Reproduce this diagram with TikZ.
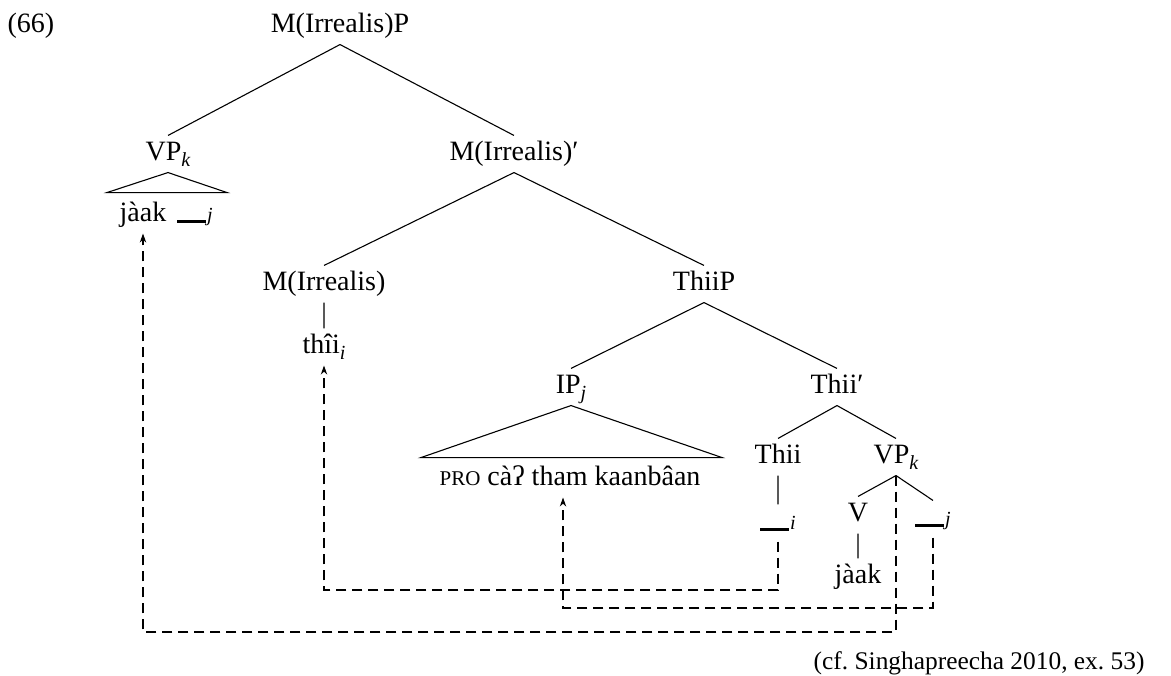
\documentclass[tikz,border=0pt]{standalone}
\usepackage{fontspec}
\setmainfont{Liberation Serif}
\usetikzlibrary{arrows.meta}
\newcommand{\idx}[1]{\raisebox{-3pt}{\fontsize{10}{12}\selectfont\itshape #1}}
\newcommand{\tgap}[1]{\rule[-1pt]{14.5pt}{1.5pt}\hspace{0.5pt}{\fontsize{10}{12}\selectfont\itshape #1}}

\begin{document}
\begin{tikzpicture}[x=0.5pt, y=-0.5pt, line width=0.55pt,
    every node/.style={anchor=base, inner xsep=0pt, inner ysep=3pt,
        text height=9pt, text depth=3pt, font=\fontsize{14}{17}\selectfont},
    movement/.style={dashed, dash pattern=on 5pt off 3pt,
        -{Stealth[length=4.5pt,width=3.2pt]}}]
\useasboundingbox (0,0) rectangle (1171,675);
\node[anchor=base west] at(7,32)(ex){(66)};
\node at(340,32)(mp){M(Irrealis)P};
\node at(168,160)(vpa){VP\idx{k}};
\node at(514,160)(mbar){M(Irrealis)′};
\node at(143,221)(jaaka){jàak};
\node at(195,221)(gapj){\tgap{j}};
\node at(324,290)(mirr){M(Irrealis)};
\node at(704,290)(thiip){ThiiP};
\node at(324,353)(thi){thîi\idx{i}};
\node at(571,393)(ipj){IP\idx{j}};
\node at(837,393)(thiibar){Thii′};
\node at(570,485)(pro){{\fontsize{10.5}{12}\selectfont PRO} càʔ tham kaanbâan};
\node at(778,463)(thii){Thii};
\node at(896,463)(vpb){VP\idx{k}};
\node at(778,529)(gapi){\tgap{i}};
\node at(858,521)(v){V};
\node at(933,525)(gapjb){\tgap{j}};
\node at(858,583)(jaakb){jàak};
\node[anchor=base east, font=\fontsize{12.7}{15}\selectfont]
    at(1145,669)(cite){(cf.\ Singhapreecha 2010, ex.\ 53)};

% branches
\draw (mp.south) -- (vpa.north)
      (mp.south) -- (mbar.north)
      (mbar.south) -- (mirr.north)
      (mbar.south) -- (thiip.north)
      (mirr.south) -- (thi.north)
      (thiip.south) -- (ipj.north)
      (thiip.south) -- (thiibar.north)
      (thiibar.south) -- (thii.north)
      (thiibar.south) -- (vpb.north)
      (thii.south) -- (gapi.north)
      (vpb.south) -- (v.north)
      (vpb.south) -- (gapjb.north)
      (v.south) -- (jaakb.north);
% roofs
\draw (vpa.south) -- ++(-61,20) -- ++(120,0) -- cycle;
\draw (ipj.south) -- ++(-150,52) -- ++(301,0) -- cycle;

% movement paths
\draw[movement] (vpb.south) -- (vpb.south |- 0,632) -| (jaaka.south);
\draw[movement] (gapi.south) -- (gapi.south |- 0,590) -| (thi.south);
\draw[movement] (gapjb.south) -- (gapjb.south |- 0,608) -| ([xshift=-3.5pt]pro.south);
\end{tikzpicture}
\end{document}
